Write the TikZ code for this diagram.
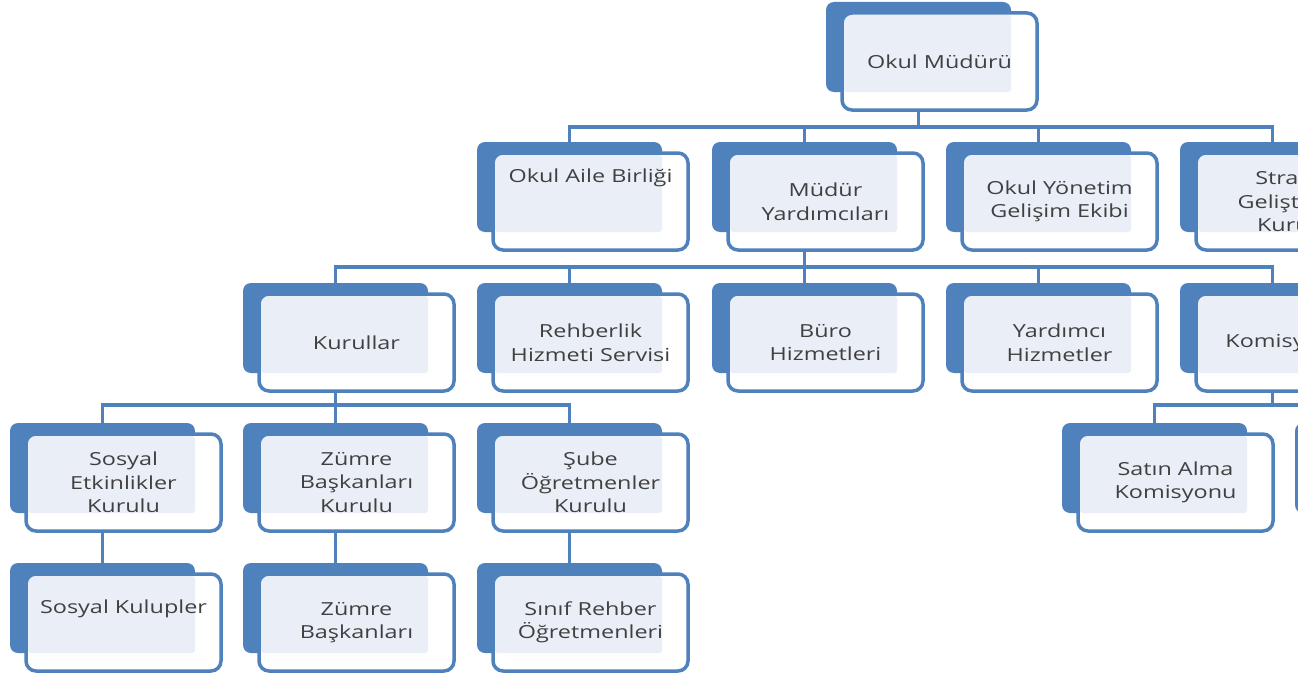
\documentclass[tikz,border=0pt]{standalone}
\usepackage{fontspec}
\setmainfont[FakeStretch=1.3]{Open Sans}
\definecolor{boxblue}{HTML}{4F81BD}
\definecolor{lightfill}{HTML}{EAEFF7}
\definecolor{txt}{HTML}{404040}
\pgfdeclarelayer{bg}
\pgfsetlayers{bg,main}
\tikzset{
  backbox/.style={fill=boxblue, rounded corners=8pt, minimum width=185pt, minimum height=90pt, inner sep=0pt},
  frontfill/.style={fill=white, rounded corners=10pt},
  frontline/.style={draw=boxblue, line width=3.5pt, rounded corners=10pt},
  lbl/.style={text=txt, align=center, inner sep=0pt, font=\fontsize{18}{23.5}\selectfont},
  conn/.style={draw=boxblue, line width=3.8pt}
}
\newcommand\obox[5][59.5]{%
  \node[backbox] (#2) at (#3+92.5,#4+45) {};
  \path[frontfill] (#3+16,#4+11) rectangle ++(195,97);
  \fill[lightfill, rounded corners=3pt] (#3+18,#4+13) rectangle (#3+185,#4+90);
  \path[frontline] (#3+16,#4+11) rectangle ++(195,97);
  \node[lbl] (#2-t) at (#3+113.5,#4+#1) {#5};
}
\begin{document}
\begin{tikzpicture}[x=1pt,y=-1pt]
\path[use as bounding box] (0,0) rectangle (1298,677);
\clip (0,0) rectangle (1298,677);
% level 0
\obox{mudur}{826}{2}{Okul Müdürü}
% level 1
\obox[36]{aile}{477}{142}{Okul Aile Birliği}
\obox{myard}{712}{142}{Müdür\\Yardımcıları}
\obox{oyg}{946}{142}{Okul Yönetim\\Gelişim Ekibi}
\obox{strat}{1180}{142}{Strateji\\Geliştirme\\Kurulu}
% level 2
\obox{kurul}{243}{283}{Kurullar}
\obox{rehber}{477}{283}{Rehberlik\\Hizmeti Servisi}
\obox{buro}{712}{283}{Büro\\Hizmetleri}
\obox{yard}{946}{283}{Yardımcı\\Hizmetler}
\obox{komis}{1180}{283}{Komisyonlar}
% level 3
\obox{sek}{10}{423}{Sosyal\\Etkinlikler\\Kurulu}
\obox{zbk}{243}{423}{Zümre\\Başkanları\\Kurulu}
\obox{sok}{477}{423}{Şube\\Öğretmenler\\Kurulu}
\obox{satin}{1062}{423}{Satın Alma\\Komisyonu}
\obox{komis2}{1295}{423}{}
% level 4
\obox[46]{skul}{10}{563}{Sosyal Kulupler}
\obox{zbas}{243}{563}{Zümre\\Başkanları}
\obox{srehber}{477}{563}{Sınıf Rehber\\Öğretmenleri}
% buses
\coordinate (bus1) at (0,127);
\coordinate (bus2) at (0,267);
\coordinate (bus3) at (0,405);
\coordinate (bus4) at (0,405);
\begin{pgfonlayer}{bg}
\clip (0,0) rectangle (1298,677);
\foreach \c in {aile,myard,oyg,strat}
  \draw[conn] (mudur.center) -- (mudur.center |- bus1) -| (\c.north);
\foreach \c in {kurul,rehber,buro,yard,komis}
  \draw[conn] (myard.center) -- (myard.center |- bus2) -| (\c.north);
\foreach \c in {sek,zbk,sok}
  \draw[conn] (kurul.center) -- (kurul.center |- bus3) -| (\c.north);
\foreach \c in {satin,komis2}
  \draw[conn] (komis.center) -- (komis.center |- bus4) -| (\c.north);
\draw[conn] (sek.center) -- (skul.north);
\draw[conn] (zbk.center) -- (zbas.north);
\draw[conn] (sok.center) -- (srehber.north);
\end{pgfonlayer}
\end{tikzpicture}
\end{document}
